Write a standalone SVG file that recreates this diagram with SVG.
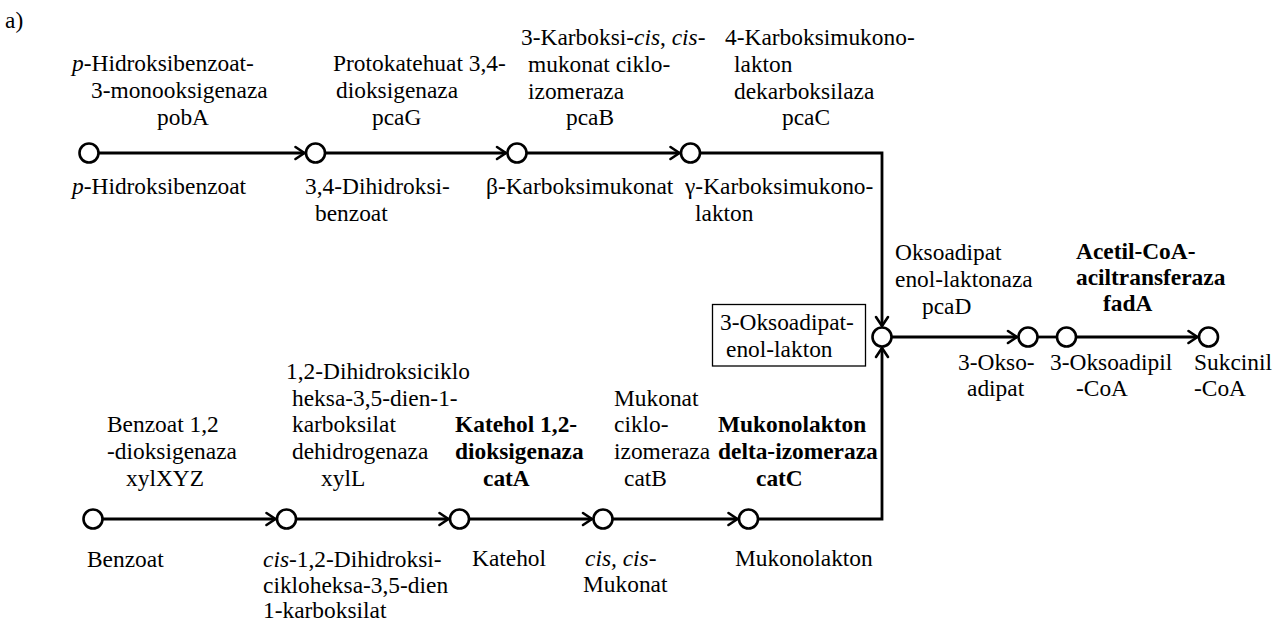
<svg xmlns="http://www.w3.org/2000/svg" width="1286" height="621" viewBox="0 0 1286 621">
<defs>
<style>
text{font-family:"Liberation Serif","Times New Roman",serif;font-size:23.4px;fill:#000}
.b{font-weight:bold}
.i{font-style:italic}
.node circle{fill:#fff;stroke:#000;stroke-width:2.6}
.edge{fill:none;stroke:#000;stroke-width:2.8;stroke-linejoin:miter}
.box{fill:#fff;stroke:#000;stroke-width:1.3}
</style>
<marker id="arr" markerUnits="userSpaceOnUse" markerWidth="14" markerHeight="16" refX="11" refY="8" orient="auto">
<path d="M2,2 L11,8 L2,14" fill="none" stroke="#000" stroke-width="2.6" stroke-linejoin="round" stroke-linecap="round"/>
</marker>
</defs>
<rect width="1286" height="621" fill="#fff"/>
<text x="5" y="28">a)</text>

<g id="connectors">
<path class="edge" d="M99,153 H304.5" marker-end="url(#arr)"/>
<path class="edge" d="M325,153 H506" marker-end="url(#arr)"/>
<path class="edge" d="M527,153 H679.5" marker-end="url(#arr)"/>
<path class="edge" d="M700.5,153 H882 V326" marker-end="url(#arr)"/>
<path class="edge" d="M103,519 H275.5" marker-end="url(#arr)"/>
<path class="edge" d="M296.5,519 H448.5" marker-end="url(#arr)"/>
<path class="edge" d="M469.5,519 H592" marker-end="url(#arr)"/>
<path class="edge" d="M613,519 H737.5" marker-end="url(#arr)"/>
<path class="edge" d="M758.5,519 H882 V348" marker-end="url(#arr)"/>
<path class="edge" d="M892,337 H1017" marker-end="url(#arr)"/>
<path class="edge" d="M1038,337 H1057"/>
<path class="edge" d="M1076.5,337 H1197.5" marker-end="url(#arr)"/>
</g>

<g id="enzymes">
<g id="e-pobA">
<text x="72" y="71"><tspan class="i">p</tspan>-Hidroksibenzoat-</text>
<text x="91" y="98">3-monooksigenaza</text>
<text x="157" y="125">pobA</text>
</g>
<g id="e-pcaG">
<text x="333" y="71">Protokatehuat 3,4-</text>
<text x="336" y="98">dioksigenaza</text>
<text x="372" y="125">pcaG</text>
</g>
<g id="e-pcaB">
<text x="521" y="45">3-Karboksi-<tspan class="i">cis</tspan>, <tspan class="i">cis</tspan>-</text>
<text x="528" y="72">mukonat ciklo-</text>
<text x="528" y="99">izomeraza</text>
<text x="566" y="125">pcaB</text>
</g>
<g id="e-pcaC">
<text x="725" y="45">4-Karboksimukono-</text>
<text x="734" y="72">lakton</text>
<text x="734" y="99">dekarboksilaza</text>
<text x="782" y="125">pcaC</text>
</g>
<g id="e-pcaD">
<text x="895" y="260">Oksoadipat</text>
<text x="895" y="287">enol-laktonaza</text>
<text x="922" y="314">pcaD</text>
</g>
<g id="e-fadA">
<text class="b" x="1076" y="259">Acetil-CoA-</text>
<text class="b" x="1076" y="285">aciltransferaza</text>
<text class="b" x="1103" y="311">fadA</text>
</g>
<g id="e-xylXYZ">
<text x="107" y="432">Benzoat 1,2</text>
<text x="107" y="459">-dioksigenaza</text>
<text x="126" y="486">xylXYZ</text>
</g>
<g id="e-xylL">
<text x="286" y="379">1,2-Dihidroksiciklo</text>
<text x="292" y="406">heksa-3,5-dien-1-</text>
<text x="292" y="432">karboksilat</text>
<text x="292" y="459">dehidrogenaza</text>
<text x="321" y="486">xylL</text>
</g>
<g id="e-catA">
<text class="b" x="455" y="432">Katehol 1,2-</text>
<text class="b" x="455" y="459">dioksigenaza</text>
<text class="b" x="483" y="486">catA</text>
</g>
<g id="e-catB">
<text x="614" y="406">Mukonat</text>
<text x="614" y="432">ciklo-</text>
<text x="614" y="459">izomeraza</text>
<text x="624" y="486">catB</text>
</g>
<g id="e-catC">
<text class="b" x="718" y="432">Mukonolakton</text>
<text class="b" x="718" y="459">delta-izomeraza</text>
<text class="b" x="756" y="486">catC</text>
</g>
</g>

<g id="n-phb" class="node">
<circle cx="89" cy="153" r="9.5"/>
<text x="72" y="194"><tspan class="i">p</tspan>-Hidroksibenzoat</text>
</g>
<g id="n-dhb" class="node">
<circle cx="315.5" cy="153" r="9.5"/>
<text x="305" y="194">3,4-Dihidroksi-</text>
<text x="315" y="221">benzoat</text>
</g>
<g id="n-bkm" class="node">
<circle cx="517" cy="153" r="9.5"/>
<text x="486" y="194">β-Karboksimukonat</text>
</g>
<g id="n-gkl" class="node">
<circle cx="690.5" cy="153" r="9.5"/>
<text x="685" y="194">γ-Karboksimukono-</text>
<text x="695" y="221">lakton</text>
</g>
<g id="n-oel" class="node">
<rect class="box" x="712.5" y="304.5" width="153" height="61.5"/>
<text x="720" y="330">3-Oksoadipat-</text>
<text x="726" y="357">enol-lakton</text>
<circle cx="882" cy="337" r="9.5"/>
</g>
<g id="n-oa" class="node">
<circle cx="1028" cy="337" r="9.5"/>
<text x="958" y="370">3-Okso-</text>
<text x="967" y="396">adipat</text>
</g>
<g id="n-oacoa" class="node">
<circle cx="1066.5" cy="337" r="9.5"/>
<text x="1050" y="370">3-Oksoadipil</text>
<text x="1076" y="396">-CoA</text>
</g>
<g id="n-succ" class="node">
<circle cx="1208.5" cy="337" r="9.5"/>
<text x="1194" y="370">Sukcinil</text>
<text x="1194" y="396">-CoA</text>
</g>
<g id="n-benz" class="node">
<circle cx="93" cy="519" r="9.5"/>
<text x="87" y="567">Benzoat</text>
</g>
<g id="n-cis" class="node">
<circle cx="286.5" cy="519" r="9.5"/>
<text x="263" y="567"><tspan class="i">cis</tspan>-1,2-Dihidroksi-</text>
<text x="263" y="593">cikloheksa-3,5-dien</text>
<text x="263" y="618">1-karboksilat</text>
</g>
<g id="n-kat" class="node">
<circle cx="459.5" cy="519" r="9.5"/>
<text x="472" y="566">Katehol</text>
</g>
<g id="n-ccm" class="node">
<circle cx="603" cy="519" r="9.5"/>
<text x="585" y="566"><tspan class="i">cis, cis</tspan>-</text>
<text x="583" y="592">Mukonat</text>
</g>
<g id="n-muk" class="node">
<circle cx="748.5" cy="519" r="9.5"/>
<text x="735" y="566">Mukonolakton</text>
</g>
</svg>
